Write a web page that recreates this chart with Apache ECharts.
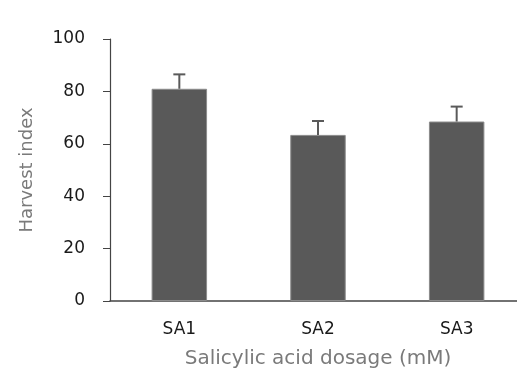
<!DOCTYPE html>
<html><head><meta charset="utf-8">
<script src="https://cdn.jsdelivr.net/npm/echarts@6/dist/echarts.min.js"></script>
<style>html,body{margin:0;padding:0;background:#fff}#c{width:517px;height:376px}</style>
</head><body><div id="c"></div>
<script>
const categories = ['SA1', 'SA2', 'SA3'];
const values = [81.0, 63.4, 68.5];
const errors = [5.5, 5.3, 5.7];
const yTicks = [0, 20, 40, 60, 80, 100];

const chart = echarts.init(document.getElementById('c'), null, {renderer: 'canvas'});
const font = 'DejaVu Sans';
chart.setOption({
  animation: false,
  grid: {left: 110, top: 39, width: 416, height: 262, containLabel: false, outerBoundsMode: 'none'},
  xAxis: {
    type: 'category', data: categories,
    name: 'Salicylic acid dosage (mM)', nameLocation: 'middle', nameGap: 48,
    nameTextStyle: {fontFamily: font, fontSize: 20, color: '#7a7a7a'},
    axisLine: {lineStyle: {color: '#444', width: 1.5}},
    axisTick: {show: false},
    axisLabel: {fontFamily: font, fontSize: 17, color: '#1a1a1a', margin: 20}
  },
  yAxis: {
    type: 'value', min: 0, max: 100, interval: 20,
    name: 'Harvest index', nameLocation: 'middle', nameGap: 74,
    nameTextStyle: {fontFamily: font, fontSize: 18, color: '#7a7a7a'},
    axisLine: {show: true, lineStyle: {color: '#444', width: 1.2}},
    axisTick: {show: true, length: 7, lineStyle: {color: '#444'}},
    splitLine: {show: false},
    axisLabel: {fontFamily: font, fontSize: 17, color: '#1a1a1a', margin: 25,
      formatter: v => yTicks.includes(v) ? String(v) : ''}
  },
  series: [{
    type: 'bar', data: values, barWidth: '40%',
    itemStyle: {color: '#595959', borderColor: '#8c8c8c', borderWidth: 1}
  }, {
    type: 'custom',
    data: values.map((v, i) => [i, v, v + errors[i]]),
    renderItem: function (params, api) {
      const lo = api.coord([api.value(0), api.value(1)]);
      const hi = api.coord([api.value(0), api.value(2)]);
      const half = 6;
      const style = {stroke: '#5a5a5a', lineWidth: 2};
      return {type: 'group', children: [
        {type: 'line', shape: {x1: hi[0], y1: hi[1], x2: lo[0], y2: lo[1]}, style},
        {type: 'line', shape: {x1: hi[0] - half, y1: hi[1], x2: hi[0] + half, y2: hi[1]}, style}
      ]};
    },
    z: 5
  }]
});
</script></body></html>
